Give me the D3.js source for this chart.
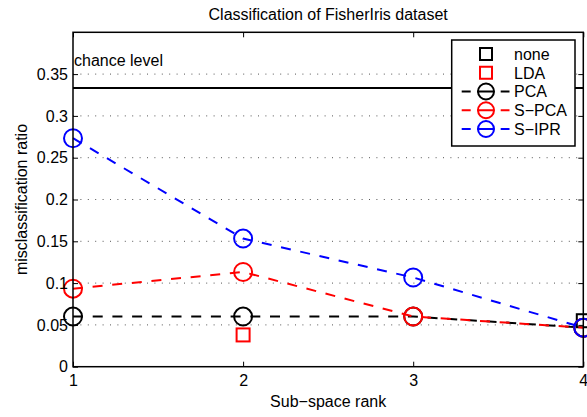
<!DOCTYPE html>
<head>
<style type="text/css">
    body {
      font-family: "Liberation Sans", Arial, Helvetica, sans-serif;
      margin: 0;
      background: #fff;
    }
    text { font-family: "Liberation Sans", Arial, Helvetica, sans-serif; fill: #000; }
</style>
</head>
<script src="https://d3js.org/d3.v7.min.js"></script>
<body>
    <svg width="587" height="417"></svg>
    <script>
        // data (misclassification ratio, fisher iris, 150 samples)
        var ranks = [1, 2, 3, 4];
        var pcaErr  = [0.06, 0.06, 0.06, 0.0467];
        var spcaErr = [0.0933, 0.1133, 0.06, 0.0467];
        var siprErr = [0.2733, 0.1533, 0.1067, 0.0467];
        var noneRank = [4], noneErr = [0.055];
        var ldaRank = [2], ldaErr = [0.038];
        var chanceLevel = 1 / 3;
        var yTicks = [0, 0.05, 0.1, 0.15, 0.2, 0.25, 0.3, 0.35];
        var yTickLabels = ["0", "0.05", "0.1", "0.15", "0.2", "0.25", "0.3", "0.35"];

        // plot box (note: "top" is taken by window.top)
        var pLeft = 73, pRight = 583.3, pTop = 32.3, pBottom = 366.7;

        var svg = d3.select("svg");

        var x = d3.scaleLinear().domain([1, 4]).range([pLeft, pRight]);
        var y = d3.scaleLinear().domain([0, 0.4]).range([pBottom, pTop]);

        // horizontal dotted grid
        svg.append("g").selectAll("line")
            .data(yTicks.slice(1))
            .enter().append("line")
            .attr("x1", pLeft).attr("x2", pRight)
            .attr("y1", function(d) { return y(d); })
            .attr("y2", function(d) { return y(d); })
            .style("stroke", "#555")
            .style("stroke-width", 1)
            .style("stroke-dasharray", "1,6.4");

        // chance level
        svg.append("line")
            .attr("x1", x(1)).attr("x2", x(4))
            .attr("y1", y(chanceLevel)).attr("y2", y(chanceLevel))
            .style("stroke", "#000").style("stroke-width", 2);
        svg.append("text")
            .attr("x", x(1) + 1).attr("y", y(0.36))
            .style("font-size", "16px")
            .text("chance level");

        var line = d3.line()
            .x(function(d) { return x(d[0]); })
            .y(function(d) { return y(d[1]); });

        function squares(xs, vs, color) {
            svg.append("g").selectAll("rect")
                .data(d3.zip(xs, vs))
                .enter().append("rect")
                .attr("x", function(d) { return x(d[0]) - 6.5; })
                .attr("y", function(d) { return y(d[1]) - 6.5; })
                .attr("width", 13).attr("height", 13)
                .style("fill", "none")
                .style("stroke", color)
                .style("stroke-width", 2);
        }

        function series(vs, color) {
            var pts = d3.zip(ranks, vs);
            svg.append("path")
                .datum(pts)
                .attr("d", line)
                .style("fill", "none")
                .style("stroke", color)
                .style("stroke-width", 2)
                .style("stroke-dasharray", "10,9.7");
            svg.append("g").selectAll("circle")
                .data(pts)
                .enter().append("circle")
                .attr("cx", function(d) { return x(d[0]); })
                .attr("cy", function(d) { return y(d[1]); })
                .attr("r", 9)
                .style("fill", "none")
                .style("stroke", color)
                .style("stroke-width", 2);
        }

        squares(noneRank, noneErr, "#000");
        squares(ldaRank, ldaErr, "#f00");
        series(pcaErr, "#000");
        series(spcaErr, "#f00");
        series(siprErr, "#00f");

        // axes box, inward ticks
        svg.append("rect")
            .attr("x", pLeft).attr("y", pTop)
            .attr("width", pRight - pLeft).attr("height", pBottom - pTop)
            .style("fill", "none").style("stroke", "#000").style("stroke-width", 1.5);

        var yAxisL = d3.axisLeft(y).tickValues(yTicks).tickSize(-5).tickPadding(10)
            .tickFormat(function(d, i) { return yTickLabels[i]; });
        var gl = svg.append("g").attr("transform", "translate(" + pLeft + ",0)").call(yAxisL);
        svg.append("g").attr("transform", "translate(" + pRight + ",0)")
            .call(d3.axisRight(y).tickValues(yTicks).tickSize(-5).tickFormat(""));
        var gb = svg.append("g").attr("transform", "translate(0," + pBottom + ")")
            .call(d3.axisBottom(x).tickValues(ranks).tickSize(-5).tickPadding(10).tickFormat(d3.format("d")));
        svg.append("g").attr("transform", "translate(0," + pTop + ")")
            .call(d3.axisTop(x).tickValues(ranks).tickSize(-5).tickFormat(""));

        svg.selectAll(".domain").remove();
        svg.selectAll(".tick line").style("stroke", "#000").style("stroke-width", 1);
        svg.selectAll(".tick text").style("font-size", "16px")
            .style("font-family", "'Liberation Sans', Arial, sans-serif").style("fill", "#000");
        gl.selectAll(".tick text").attr("x", -5);
        gb.selectAll(".tick text").attr("dy", "0.71em").attr("y", 8);

        // titles
        svg.append("text")
            .attr("x", (pLeft + pRight) / 2).attr("y", 20)
            .attr("text-anchor", "middle")
            .style("font-size", "16px")
            .text("Classification of FisherIris dataset");
        svg.append("text")
            .attr("x", (pLeft + pRight) / 2).attr("y", 407)
            .attr("text-anchor", "middle")
            .style("font-size", "16px")
            .text("Sub\u2212space rank");
        svg.append("text")
            .attr("transform", "translate(27," + (pTop + pBottom) / 2 + ")rotate(-90)")
            .attr("text-anchor", "middle")
            .style("font-size", "16px")
            .text("misclassification ratio");

        // legend
        var legendItems = [
            { name: "none",  color: "#000", marker: "square", dashed: false },
            { name: "LDA",   color: "#f00", marker: "square", dashed: false },
            { name: "PCA",   color: "#000", marker: "circle", dashed: true },
            { name: "S\u2212PCA", color: "#f00", marker: "circle", dashed: true },
            { name: "S\u2212IPR", color: "#00f", marker: "circle", dashed: true }
        ];

        var lg = svg.append("g");
        lg.append("rect")
            .attr("x", 451.7).attr("y", 40)
            .attr("width", 123.3).attr("height", 106)
            .style("fill", "#fff").style("stroke", "#000").style("stroke-width", 1.5);

        var entry = lg.selectAll(".entry")
            .data(legendItems)
            .enter().append("g")
            .attr("class", "entry")
            .attr("transform", function(d, i) { return "translate(0," + (54 + i * 18.75) + ")"; });

        entry.filter(function(d) { return d.dashed; })
            .append("line")
            .attr("x1", 461.7).attr("x2", 509.5)
            .attr("y1", 0).attr("y2", 0)
            .style("stroke", function(d) { return d.color; })
            .style("stroke-width", 2)
            .style("stroke-dasharray", "9,6.5,17,6.5,9");

        entry.filter(function(d) { return d.marker == "circle"; })
            .append("circle")
            .attr("cx", 486).attr("cy", 0).attr("r", 8)
            .style("fill", "none")
            .style("stroke", function(d) { return d.color; })
            .style("stroke-width", 2);

        entry.filter(function(d) { return d.marker == "square"; })
            .append("rect")
            .attr("x", 480).attr("y", -6).attr("width", 12).attr("height", 12)
            .style("fill", "none")
            .style("stroke", function(d) { return d.color; })
            .style("stroke-width", 2);

        entry.append("text")
            .attr("x", 514).attr("y", 0).attr("dy", "0.36em")
            .style("font-size", "16px")
            .text(function(d) { return d.name; });
    </script>
</body>
